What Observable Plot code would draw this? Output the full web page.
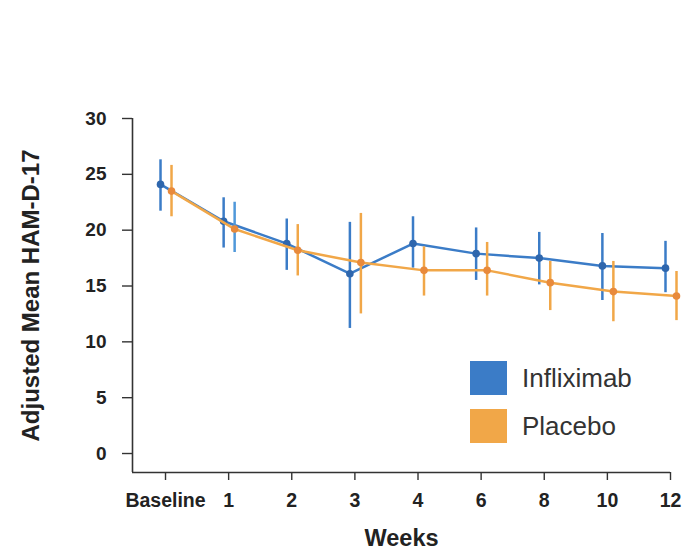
<!DOCTYPE html>
<html>
<head>
<meta charset="utf-8">
<script src="https://cdn.jsdelivr.net/npm/d3@7"></script>
<script src="https://cdn.jsdelivr.net/npm/@observablehq/plot@0.6"></script>
<style>
  html, body { margin: 0; padding: 0; background: #fff; }
  #wrap { position: relative; width: 682px; height: 552px; font-family: "Liberation Sans", Arial, sans-serif; }
  #legend { position: absolute; left: 470px; top: 361px; }
  .item { display: flex; align-items: center; height: 34px; margin-bottom: 14px; }
  .sw { width: 37px; height: 34px; margin-right: 15px; }
  .lab { font-size: 26px; color: #333; }
</style>
</head>
<body>
<div id="wrap"><div id="legend"></div></div>
<script>
const weeks = ["Baseline", "1", "2", "3", "4", "6", "8", "10", "12"];
const inflixMean = [24.1, 20.8, 18.8, 16.1, 18.8, 17.9, 17.5, 16.8, 16.6];
const inflixLow  = [21.7, 18.4, 16.4, 11.2, 16.6, 15.5, 15.1, 13.7, 14.4];
const inflixHigh = [26.3, 22.9, 21.0, 20.7, 21.2, 20.2, 19.8, 19.7, 19.0];
const placeboMean = [23.5, 20.1, 18.2, 17.1, 16.4, 16.4, 15.3, 14.5, 14.1];
const placeboLow  = [21.2, 18.0, 15.9, 12.5, 14.1, 14.1, 12.8, 11.8, 11.9];
const placeboHigh = [25.8, 22.5, 20.5, 21.5, 18.5, 18.9, 17.2, 17.2, 16.3];
const series = ["Infliximab", "Placebo"];
const yTicks = [0, 5, 10, 15, 20, 25, 30];

const BLUE = "#3b7cc7", BLUE_DOT = "#2e66ad", ORANGE = "#f1a748", ORANGE_DOT = "#e88a3c";

const inflix = weeks.map((w, i) => ({i, week: w, mean: inflixMean[i], lo: inflixLow[i], hi: inflixHigh[i]}));
const placebo = weeks.map((w, i) => ({i, week: w, mean: placeboMean[i], lo: placeboLow[i], hi: placeboHigh[i]}));

const xDomain = [-0.523, weeks.length - 1];
const yDomain = [-1.7, 30];

const chart = Plot.plot({
  width: 682,
  height: 552,
  marginLeft: 132,
  marginRight: 12,
  marginTop: 118,
  marginBottom: 80,
  style: {fontFamily: "Liberation Sans, Arial, sans-serif", color: "#222", background: "white"},
  x: {domain: xDomain},
  y: {domain: yDomain},
  marks: [
    Plot.ruleX([xDomain[0]], {y1: yDomain[0], y2: yDomain[1], stroke: "#333", strokeWidth: 1.6}),
    Plot.ruleY([yDomain[0]], {x1: xDomain[0], x2: xDomain[1], stroke: "#333", strokeWidth: 1.6}),
    Plot.axisY({ticks: yTicks, tickSize: 10, tickPadding: 16, fontSize: 19, fontWeight: "bold", stroke: "#333", strokeWidth: 1.4, label: null}),
    Plot.axisX({ticks: weeks.map((_, i) => i), tickFormat: i => weeks[i], tickSize: 8, tickPadding: 13, fontSize: 19.5, fontWeight: "bold", stroke: "#333", strokeWidth: 1.4, label: null}),
    Plot.text(["Adjusted Mean HAM-D-17"], {frameAnchor: "left", textAnchor: "middle", rotate: -90, dx: -101, fontSize: 24, fontWeight: "bold", fill: "#222"}),
    Plot.text(["Weeks"], {frameAnchor: "bottom", dy: 73, fontSize: 23.5, fontWeight: "bold", fill: "#222"}),
    // Infliximab
    Plot.ruleX(inflix, {x: "i", y1: "lo", y2: "hi", dx: -5, stroke: BLUE, strokeWidth: 2.5}),
    Plot.line(inflix, {x: "i", y: "mean", dx: -5, stroke: BLUE, strokeWidth: 2.5}),
    Plot.dot(inflix, {x: "i", y: "mean", dx: -5, r: 3.8, fill: BLUE_DOT, stroke: "none"}),
    // Placebo
    Plot.ruleX(placebo, {x: "i", y1: "lo", y2: "hi", dx: 6, stroke: d => d.week === "1" ? "#4f98da" : ORANGE, strokeWidth: 2.5}),
    Plot.line(placebo, {x: "i", y: "mean", dx: 6, stroke: ORANGE, strokeWidth: 2.5}),
    Plot.dot(placebo, {x: "i", y: "mean", dx: 6, r: 3.8, fill: ORANGE_DOT, stroke: "none"})
  ]
});
document.getElementById("wrap").prepend(chart);

const legend = document.getElementById("legend");
[[series[0], BLUE], [series[1], ORANGE]].forEach(([name, col]) => {
  const it = document.createElement("div");
  it.className = "item";
  it.innerHTML = `<div class="sw" style="background:${col}"></div><div class="lab">${name}</div>`;
  legend.appendChild(it);
});
</script>
</body>
</html>
